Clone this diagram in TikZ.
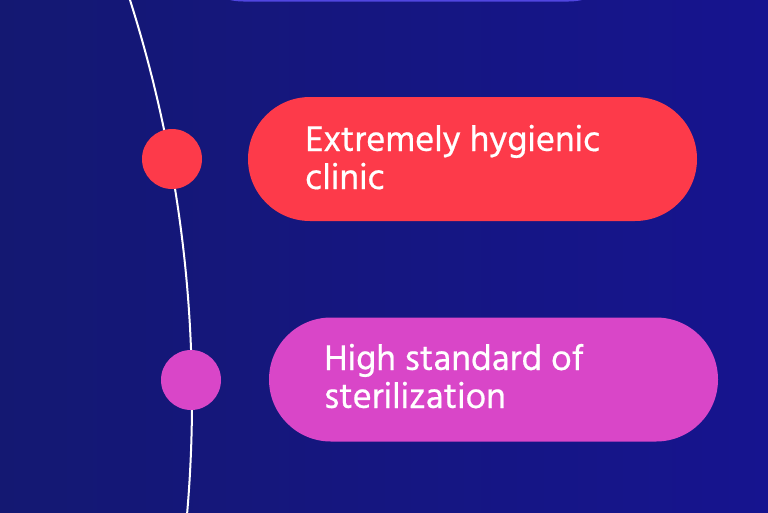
\documentclass[tikz,border=0pt]{standalone}
\usepackage{fontspec}
\newfontfamily\hind[FakeBold=0.5]{Hind Madurai}
\definecolor{bgA}{HTML}{141872}
\definecolor{bgB}{HTML}{16148F}
\definecolor{redc}{HTML}{FD3A4A}
\definecolor{magc}{HTML}{D946C8}
\definecolor{bluec}{HTML}{5046E0}
\tikzset{
  pill/.style={rectangle, rounded corners=62pt, minimum width=449pt, minimum height=124pt, inner sep=0pt},
  dot/.style={circle, minimum size=60pt, inner sep=0pt},
  lbl/.style={anchor=base west, align=left, text=white, inner sep=0pt, font=\hind\fontsize{36.5}{38}\selectfont}
}
\begin{document}
\begin{tikzpicture}[x=1pt,y=-1pt]
\useasboundingbox (0,0) rectangle (768,512);
\shade[left color=bgA, right color=bgB] (0,0) rectangle (768,512);
% timeline arc
\draw[white, line width=2pt] (-1129,400) ++(18:1321pt) arc[start angle=18, end angle=-6, radius=1321pt];
% pills
\node[pill, fill=bluec] (p0) at (406,-60.5) {};
\node[pill, fill=redc] (p1) at (472.5,159) {};
\node[pill, fill=magc] (p2) at (493.5,379.5) {};
% dots
\node[dot, fill=redc] (d1) at (172,159) {};
\node[dot, fill=magc] (d2) at (191,380) {};
% labels
\node[lbl] (t1) at (305,189) {Extremely hygienic\\clinic};
\node[lbl] (t2) at (324,408) {High standard of\\sterilization};
\end{tikzpicture}
\end{document}
